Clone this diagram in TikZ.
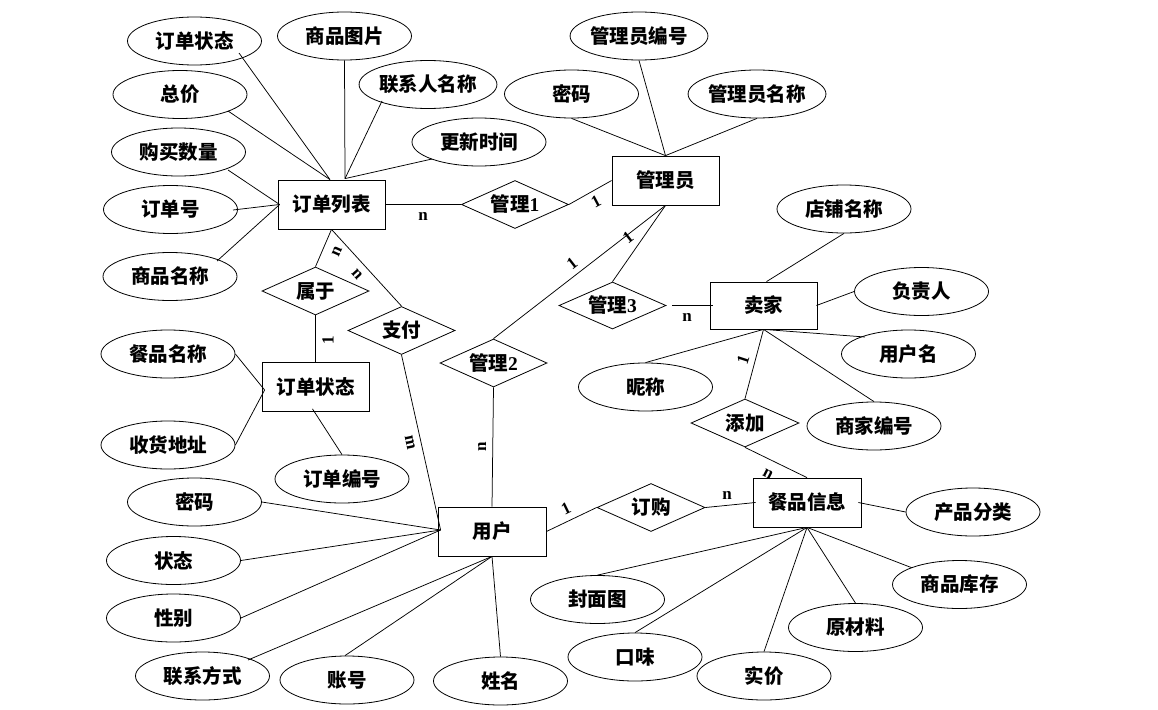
\documentclass[tikz,border=0pt]{standalone}
\usepackage{fontspec}
\newfontfamily\cjkf{Noto Sans CJK SC}
\newfontfamily\tnrf{Liberation Serif}
\usetikzlibrary{shapes.geometric}
\begin{document}
\begin{tikzpicture}[x=1pt,y=-1pt,
  txt/.style={font=\cjkf\bfseries\fontsize{19.5}{21}\selectfont, inner sep=0pt},
  attr/.style={txt, ellipse, draw, line width=0.8pt, minimum width=134pt, minimum height=48pt},
  ent/.style={txt, rectangle, draw, line width=0.8pt, minimum width=107pt, minimum height=49pt},
  rel/.style={txt, diamond, draw, line width=0.8pt, aspect=2.2, minimum width=107pt, minimum height=48pt},
  conn/.style={line width=0.75pt},
  card/.style={font=\tnrf\bfseries\fontsize{17}{17}\selectfont, inner sep=0pt}
]
\useasboundingbox (0,0) rectangle (1158,709);

% ---------- entities ----------
\node[ent] (L) at (331.5,204.5) {订单列表};
\node[ent] (A) at (665.5,180.5) {管理员};
\node[ent] (S) at (315.5,387) {订单状态};
\node[ent, minimum height=47pt] (V) at (763.5,305.5) {卖家};
\node[ent, minimum width=108pt] (U) at (492,531.5) {用户};
\node[ent, minimum width=108pt] (F) at (807,502.5) {餐品信息};

% ---------- relationships ----------
\node[rel] (R1) at (515,204.5) {管理{\tnrf\bfseries 1}};
\node[rel] (R2) at (315.5,291) {属于};
\node[rel] (R3) at (401.5,330.5) {支付};
\node[rel] (R4) at (493.5,363) {管理{\tnrf\bfseries 2}};
\node[rel, minimum height=47pt] (R5) at (612.5,305.5) {管理{\tnrf\bfseries 3}};
\node[rel, minimum width=108pt] (R6) at (745,423) {添加};
\node[rel, minimum width=108pt] (R7) at (651,507.5) {订购};

% ---------- attributes of 订单列表 ----------
\node[attr] (e1) at (194.5,41) {订单状态};
\node[attr] (e2) at (180,94.5) {总价};
\node[attr] (e3) at (344.5,36) {商品图片};
\node[attr] (e4) at (428,84.5) {联系人名称};
\node[attr] (e5) at (479,142) {更新时间};
\node[attr] (e6) at (178.5,152) {购买数量};
\node[attr] (e7) at (170.5,209.5) {订单号};
\node[attr] (e8) at (170,276.5) {商品名称};

% ---------- attributes of 管理员 ----------
\node[attr] (f1) at (639,36) {管理员编号};
\node[attr] (f2) at (571.5,94) {密码};
\node[attr] (f3) at (757,94) {管理员名称};

% ---------- attributes of 订单状态 ----------
\node[attr] (g1) at (168,354) {餐品名称};
\node[attr] (g2) at (168,445) {收货地址};
\node[attr] (g3) at (342,479) {订单编号};

% ---------- attributes of 卖家 ----------
\node[attr] (h1) at (844,209) {店铺名称};
\node[attr] (h2) at (921.5,291.5) {负责人};
\node[attr] (h3) at (908.5,354) {用户名};
\node[attr] (h4) at (874,426) {商家编号};
\node[attr] (h5) at (645.5,387) {昵称};

% ---------- attributes of 餐品信息 ----------
\node[attr] (p1) at (973,512) {产品分类};
\node[attr] (p2) at (959.5,584.5) {商品库存};
\node[attr] (p3) at (855.5,627.5) {原材料};
\node[attr] (p4) at (764,676) {实价};
\node[attr] (p5) at (635,657) {口味};
\node[attr] (p6) at (597.5,599.5) {封面图};

% ---------- attributes of 用户 ----------
\node[attr] (q1) at (500.5,681) {姓名};
\node[attr] (q2) at (347,680) {账号};
\node[attr] (q3) at (202.5,676) {联系方式};
\node[attr] (q4) at (173.5,618) {性别};
\node[attr] (q5) at (173.5,560.5) {状态};
\node[attr] (q6) at (194.5,502) {密码};

\coordinate (uw) at ([shift={(3,-1.5)}]U.west);

% ---------- connectors ----------
\draw[conn] ([shift={(44.5,12)}]e1.center) -- ([xshift=-1.5]L.north);
\draw[conn] ([shift={(48,16.5)}]e2.center) -- ([xshift=-1.5]L.north);
\draw[conn] (e3.south) -- ([shift={(13.5,-1)}]L.north);
\draw[conn] ([shift={(-46,16.5)}]e4.center) -- ([shift={(13.5,-1)}]L.north);
\draw[conn] ([shift={(-47,17)}]e5.center) -- ([shift={(13.5,-1)}]L.north);
\draw[conn] ([shift={(49.5,18)}]e6.center) -- ([xshift=2]L.west);
\draw[conn] ([shift={(62.5,0.5)}]e7.center) -- ([xshift=2]L.west);
\draw[conn] ([shift={(47,-15.5)}]e8.center) -- ([xshift=2]L.west);

\draw[conn] (f1.south) -- (A.north);
\draw[conn] (f2.south) -- (A.north);
\draw[conn] (f3.south) -- (A.north);

\draw[conn] (L.east) -- (R1.west);
\draw[conn] (R1.east) -- (A.west);
\draw[conn] (R2.north) -- (L.south);
\draw[conn] (L.south) -- (R3.north);
\draw[conn] (R3.south) -- (uw);
\draw[conn] (R2.south) -- (S.north);

\draw[conn] (g1.east) -- ([shift={(3,3)}]S.west);
\draw[conn] (g2.east) -- ([shift={(3,3)}]S.west);
\draw[conn] (g3.north) -- ([shift={(-3,-3)}]S.south);

\draw[conn] (A.south) -- (R4.north);
\draw[conn] (R4.south) -- (U.north);
\draw[conn] (A.south) -- (R5.north);
\draw[conn] ([xshift=6]R5.east) -- ([xshift=3]V.west);

\draw[conn] (h1.south) -- ([xshift=3]V.north);
\draw[conn] (h2.west) -- ([xshift=-1]V.east);
\draw[conn] ([shift={(-43.5,-17)}]h3.center) -- (V.south);
\draw[conn] (h4.north) -- (V.south);
\draw[conn] (h5.north) -- (V.south);
\draw[conn] (V.south) -- (R6.north);
\draw[conn] (R6.south) -- (F.north);

\draw[conn] (U.east) -- (R7.west);
\draw[conn] (R7.east) -- ([xshift=3]F.west);
\draw[conn] ([xshift=-3]F.east) -- (p1.west);
\draw[conn] (F.south) -- ([shift={(-47.8,-16.8)}]p2.center);
\draw[conn] (F.south) -- (p3.north);
\draw[conn] (F.south) -- (p4.north);
\draw[conn] (F.south) -- (p5.north);
\draw[conn] (F.south) -- (p6.north);

\draw[conn] (U.south) -- (q1.north);
\draw[conn] (U.south) -- ([xshift=-2]q2.north);
\draw[conn] (U.south) -- ([shift={(45.5,-16)}]q3.center);
\draw[conn] (uw) -- (q4.east);
\draw[conn] (uw) -- (q5.east);
\draw[conn] (uw) -- (q6.east);

% ---------- cardinalities ----------
\node[card] (l1) at (423,216) {n};
\node[card, rotate=28] (l2) at (596,202) {1};
\node[card, rotate=38] (l3) at (628,237) {1};
\node[card, rotate=38] (l4) at (572,263) {1};
\node[card, rotate=66] (l5) at (337,252) {n};
\node[card, rotate=-48] (l6) at (357,274) {n};
\node[card, rotate=90] (l7) at (328,340) {1};
\node[card, rotate=-78] (l8) at (410,443) {m};
\node[card, rotate=90] (l9) at (482,447) {n};
\node[card] (l10) at (687,317) {n};
\node[card, rotate=72] (l11) at (743,360) {1};
\node[card, rotate=-27] (l12) at (768,474) {n};
\node[card, rotate=26] (l13) at (566,509) {1};
\node[card] (l14) at (727,495) {n};
\end{tikzpicture}
\end{document}
